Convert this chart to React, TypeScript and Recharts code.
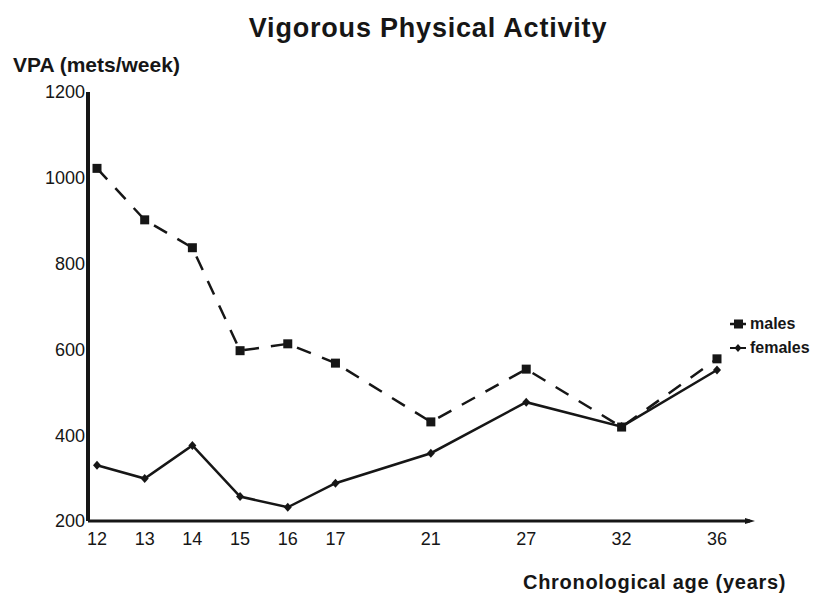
import { Line, LineChart, XAxis, YAxis } from "recharts";

// ages as printed on the x axis; "" marks an unlabeled gap slot
const SLOTS = ["12", "13", "14", "15", "16", "17", "", "21", "", "27", "", "32", "", "36"];
const AGES = ["12", "13", "14", "15", "16", "17", "21", "27", "32", "36"];
const MALES = [1022, 902, 837, 597, 613, 568, 431, 554, 419, 578];
const FEMALES = [330, 299, 376, 257, 232, 288, 358, 477, 420, 552];
const Y_TICKS = [200, 400, 600, 800, 1000, 1200];

const data = SLOTS.map((age) => {
  const i = AGES.indexOf(age);
  return {
    age,
    males: i >= 0 ? MALES[i] : null,
    females: i >= 0 ? FEMALES[i] : null,
  };
});

const FONT = '"Liberation Sans", Arial, Helvetica, sans-serif';
const INK = "#161616";

function SquareDot(props: any) {
  const { cx, cy, index } = props;
  if (cx == null || cy == null || props.value == null) return <g key={index} />;
  return <rect key={index} x={cx - 4.5} y={cy - 4.5} width={9} height={9} fill={INK} />;
}

function DiamondDot(props: any) {
  const { cx, cy, index } = props;
  if (cx == null || cy == null || props.value == null) return <g key={index} />;
  return (
    <path
      key={index}
      d={`M${cx},${cy - 4.5}L${cx + 4},${cy}L${cx},${cy + 4.5}L${cx - 4},${cy}Z`}
      fill={INK}
    />
  );
}

function LegendBox() {
  const row = { display: "flex", alignItems: "center", height: 24 } as const;
  return (
    <div
      style={{
        position: "absolute",
        left: 722,
        top: 304,
        width: 89,
        fontWeight: "bold",
        fontSize: 16,
        whiteSpace: "nowrap",
      }}
    >
      <div style={row}>
        <svg width={18} height={12}>
          <line x1={0} y1={6} x2={16} y2={6} stroke={INK} strokeWidth={2.5} />
          <rect x={4} y={1.5} width={9} height={9} fill={INK} />
        </svg>
        <span style={{ marginLeft: 2 }}>males</span>
      </div>
      <div style={row}>
        <svg width={18} height={12}>
          <line x1={0} y1={6} x2={16} y2={6} stroke={INK} strokeWidth={2} />
          <path d="M8,2L11.5,6L8,10L4.5,6Z" fill={INK} />
        </svg>
        <span style={{ marginLeft: 2 }}>females</span>
      </div>
    </div>
  );
}

export default function App() {
  return (
    <div
      style={{
        position: "relative",
        width: 811,
        height: 585,
        overflow: "hidden",
        background: "#fff",
        fontFamily: FONT,
        color: INK,
      }}
    >
      <LineChart
        width={811}
        height={585}
        data={data}
        margin={{ top: 84, right: 69, bottom: 42, left: 0 }}
      >
        <defs>
          <marker
            id="axisArrow"
            markerUnits="userSpaceOnUse"
            markerWidth="10"
            markerHeight="8"
            refX="5"
            refY="4"
            orient="auto"
          >
            <path d="M0,1L10,4L0,7Z" fill={INK} />
          </marker>
        </defs>
        <XAxis
          dataKey="age"
          interval={0}
          padding={{ left: 9, right: 33 }}
          height={30}
          tickLine={false}
          tickSize={0}
          tickMargin={11}
          axisLine={{ stroke: INK, strokeWidth: 3, markerEnd: "url(#axisArrow)" }}
          tick={{ fill: INK, fontSize: 18, fontFamily: FONT }}
        />
        <YAxis
          width={80}
          domain={[200, 1200]}
          ticks={Y_TICKS}
          tickLine={false}
          tickSize={0}
          tickMargin={3}
          axisLine={{ stroke: INK, strokeWidth: 4 }}
          tick={{ fill: INK, fontSize: 18, fontFamily: FONT }}
        />
        <Line
          type="linear"
          dataKey="males"
          stroke={INK}
          strokeWidth={2.5}
          strokeDasharray="15 12"
          connectNulls
          dot={<SquareDot />}
          activeDot={false}
          isAnimationActive={false}
        />
        <Line
          type="linear"
          dataKey="females"
          stroke={INK}
          strokeWidth={2.5}
          connectNulls
          dot={<DiamondDot />}
          activeDot={false}
          isAnimationActive={false}
        />
      </LineChart>

      <div
        style={{
          position: "absolute",
          left: 0,
          width: 840,
          top: 7,
          textAlign: "center",
          fontSize: 27,
          lineHeight: "27px",
          fontWeight: "bold",
          letterSpacing: 0.8,
          whiteSpace: "nowrap",
        }}
      >
        Vigorous Physical Activity
      </div>
      <div
        style={{
          position: "absolute",
          left: 5,
          top: 46,
          fontSize: 21,
          lineHeight: "21px",
          fontWeight: "bold",
          whiteSpace: "nowrap",
        }}
      >
        VPA (mets/week)
      </div>
      <div
        style={{
          position: "absolute",
          left: 515,
          top: 564,
          fontSize: 20,
          lineHeight: "20px",
          fontWeight: "bold",
          letterSpacing: 0.7,
          whiteSpace: "nowrap",
        }}
      >
        Chronological age (years)
      </div>
      <LegendBox />
    </div>
  );
}
